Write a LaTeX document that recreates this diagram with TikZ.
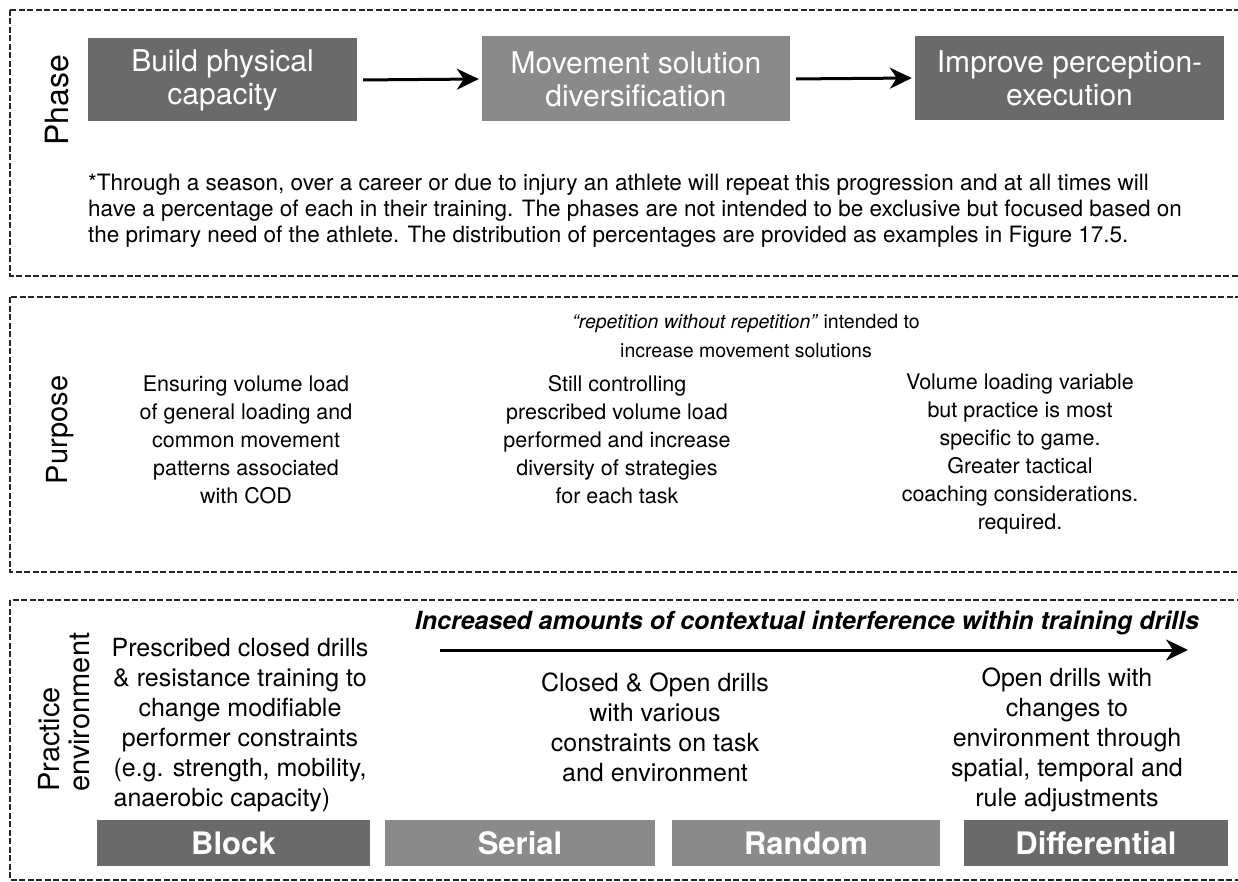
\documentclass[tikz,border=0pt]{standalone}
\usepackage{fontspec}
\setmainfont{TeX Gyre Heros}
\usetikzlibrary{arrows.meta}
\definecolor{boxdark}{HTML}{6A6A6A}
\definecolor{boxlight}{HTML}{8A8A8A}
\begin{document}
\begin{tikzpicture}[x=1pt,y=-1pt,
  panel/.style={draw=black!85, line width=2.6pt, dash pattern=on 6pt off 2.5pt},
  phasebox/.style={fill=#1, text=white, inner sep=0, align=center, font=\fontsize{30}{33}\selectfont},
  bar/.style={fill=#1, text=white, inner sep=0, font=\bfseries\fontsize{31}{32}\selectfont},
  sidelabel/.style={rotate=90, inner sep=0, font=\fontsize{29}{30}\selectfont, align=left},
  purp/.style={align=center, inner sep=0, font=\fontsize{21.5}{28}\selectfont},
  prac/.style={align=center, inner sep=0, font=\fontsize{25}{30}\selectfont},
  note/.style={align=left, inner sep=0, font=\fontsize{22.5}{26}\selectfont},
  arr/.style={line width=3pt, -{Stealth[length=22pt,width=21pt,inset=7pt]}},
]
\useasboundingbox (0,0) rectangle (1238,882);
\fill[white] (0,0) rectangle (1238,882);

% panels
\draw[panel] (10,10) rectangle (1260,276);
\draw[panel] (10,297) rectangle (1260,572);
\draw[panel] (10,600) rectangle (1260,880);

% ---- Phase panel
\node[sidelabel, font=\fontsize{32}{33}\selectfont] (lphase) at (57,100) {Phase};
\node[phasebox=boxdark, minimum width=269pt, minimum height=83pt] (p1) at (222.5,80) {Build physical\\capacity};
\node[phasebox=boxlight, minimum width=308pt, minimum height=85pt] (p2) at (636,79) {Movement solution\\diversification};
\node[phasebox=boxdark, minimum width=309pt, minimum height=84pt] (p3) at (1069.5,78) {Improve perception-\\execution};
\draw[arr, shorten <=6pt, shorten >=3pt] (p1.east) -- (p2.west);
\draw[arr, shorten <=6pt, shorten >=3pt] (p2.east) -- (p3.west);

\node[note, anchor=north west] (fn) at (88,174) {*Through a season, over a career or due to injury an athlete will repeat this progression and at all times will\\
have a percentage of each in their training. The phases are not intended to be exclusive but focused based on\\
the primary need of the athlete. The distribution of percentages are provided as examples in Figure 17.5.};

% ---- Purpose panel
\node[sidelabel] (lpurpose) at (60,430) {Purpose};
\node[purp, font=\fontsize{19.5}{29}\selectfont] (rep) at (746,336) {\textit{“repetition without repetition”} intended to\\increase movement solutions};
\node[purp] (pu1) at (246,440) {Ensuring volume load\\of general loading and\\common movement\\patterns associated\\with COD};
\node[purp] (pu2) at (617,440) {Still controlling\\prescribed volume load\\performed and increase\\diversity of strategies\\for each task};
\node[purp] (pu3) at (1020,454) {Volume loading variable\\but practice is most\\specific to game.\\Greater tactical\\coaching considerations.\\required.};

% ---- Practice environment panel
\node[sidelabel, anchor=west] (lprac) at (64,792) {Practice\\environment};
\node[font=\bfseries\itshape\fontsize{25}{26}\selectfont, inner sep=0] (ci) at (807,623) {Increased amounts of contextual interference within training drills};
\coordinate (ciS) at (440,650);
\coordinate (ciE) at (1188,650);
\draw[arr] (ciS) -- (ciE);

\node[prac] (pr1) at (240,725) {Prescribed closed drills\\\& resistance training to\\change modifiable\\performer constraints\\(e.g. strength, mobility,\\anaerobic capacity)\hspace*{36pt}};
\node[prac] (pr2) at (655,727) {Closed \& Open drills\\with various\\constraints on task\\and environment};
\node[prac] (pr3) at (1067,740) {Open drills with\\changes to\\environment through\\spatial, temporal and\\rule adjustments};

\node[bar=boxdark, minimum width=273pt, minimum height=46pt] (b1) at (233.5,843) {Block};
\node[bar=boxlight, minimum width=270pt, minimum height=46pt] (b2) at (520,843) {Serial};
\node[bar=boxlight, minimum width=268pt, minimum height=46pt] (b3) at (806,843) {Random};
\node[bar=boxdark, minimum width=264pt, minimum height=46pt] (b4) at (1096,843) {Differential};
\end{tikzpicture}
\end{document}
